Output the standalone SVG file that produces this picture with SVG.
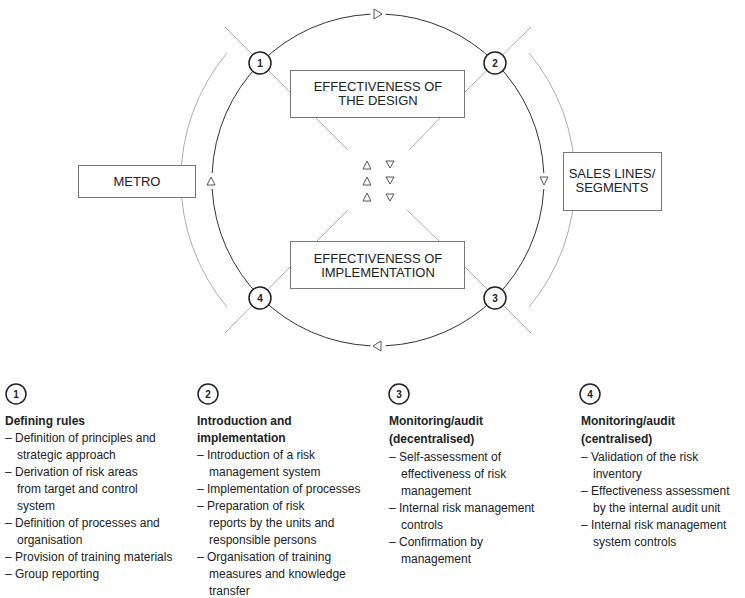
<svg xmlns="http://www.w3.org/2000/svg" width="745" height="598" viewBox="0 0 745 598">
<style>
.l{stroke:#333;stroke-width:1;fill:none}
.g{stroke:#999;stroke-width:0.8;fill:none}
.b{fill:#fff;stroke:#777;stroke-width:1}
.t{font-family:"Liberation Sans",Arial,sans-serif;font-size:13px;fill:#222;text-anchor:middle}
.n{font-family:"Liberation Sans",Arial,sans-serif;font-size:10px;font-weight:bold;fill:#222;text-anchor:middle}
.c{fill:#fff;stroke:#222;stroke-width:1.5}
.tri{fill:#fff;stroke:#444;stroke-width:0.9}
.x{font-family:"Liberation Sans",Arial,sans-serif;font-size:12px;fill:#222}
.h{font-weight:bold}
</style>
<rect width="745" height="598" fill="#fff"/>
<g id="connectors">
<path class="l" d="M385.5,14.2 A166,166 0 0 1 543.8,173 M543.8,189 A166,166 0 0 1 385.5,345.8 M370.5,345.8 A166,166 0 0 1 212.2,189 M212.2,173 A166,166 0 0 1 370.5,14.2"/>
<path class="g" d="M227,53 A198,198 0 0 0 227,307 M529,53 A198,198 0 0 1 529,307"/>
<path class="g" d="M225,27 L290,92 M315,117 L348,150 M531,27 L465,92 M441,117 L409,150 M225,333 L290,267 M317,241 L348,210 M531,333 L465,267 M439,241 L407,210"/>
<path class="tri" d="M374,9 L382,14 L374,19 Z M381,341 L373,346 L381,351 Z M207,185 L211,177 L215,185 Z M540,177 L548,177 L544,185 Z"/>
<path class="tri" d="M363,169 L367,161 L371,169 Z M363,185 L367,177 L371,185 Z M363,201 L367,193 L371,201 Z M386,161 L394,161 L390,168 Z M386,177 L394,177 L390,184 Z M386,194 L394,194 L390,201 Z"/>
</g>
<g id="box-design"><rect class="b" x="290.5" y="70.5" width="174" height="47"/><text class="t" x="378" y="91">EFFECTIVENESS OF</text><text class="t" x="378" y="105">THE DESIGN</text></g>
<g id="box-impl"><rect class="b" x="290.5" y="241.5" width="174" height="47"/><text class="t" x="378" y="263">EFFECTIVENESS OF</text><text class="t" x="378" y="277">IMPLEMENTATION</text></g>
<g id="box-metro"><rect class="b" x="78.5" y="165.5" width="117" height="32"/><text class="t" x="137" y="186">METRO</text></g>
<g id="box-sales"><rect class="b" x="563.5" y="152.5" width="98" height="58"/><text class="t" x="612" y="178">SALES LINES/</text><text class="t" x="612" y="192">SEGMENTS</text></g>
<g id="n1"><circle class="c" cx="260" cy="63" r="11"/><text class="n" x="260" y="67">1</text></g>
<g id="n2"><circle class="c" cx="495" cy="63" r="11"/><text class="n" x="495" y="67">2</text></g>
<g id="n3"><circle class="c" cx="495" cy="298" r="11"/><text class="n" x="495" y="302">3</text></g>
<g id="n4"><circle class="c" cx="260" cy="298" r="11"/><text class="n" x="260" y="302">4</text></g>
<g id="col1">
<circle class="c" cx="16" cy="394" r="10"/><text class="n" x="16" y="398">1</text>
<text class="x"><tspan class="h" x="5" y="425">Defining rules</tspan>
<tspan x="5" y="442">–  Definition of principles and</tspan><tspan x="17" y="459">strategic approach</tspan>
<tspan x="5" y="476">–  Derivation of risk areas</tspan><tspan x="17" y="493">from target and control</tspan><tspan x="17" y="510">system</tspan>
<tspan x="5" y="527">–  Definition of processes and</tspan><tspan x="17" y="544">organisation</tspan>
<tspan x="5" y="561">–  Provision of training materials</tspan>
<tspan x="5" y="578">–  Group reporting</tspan></text>
</g>
<g id="col2">
<circle class="c" cx="208" cy="394" r="10"/><text class="n" x="208" y="398">2</text>
<text class="x"><tspan class="h" x="197" y="425">Introduction and</tspan><tspan class="h" x="197" y="442">implementation</tspan>
<tspan x="197" y="459">–  Introduction of a risk</tspan><tspan x="209" y="476">management system</tspan>
<tspan x="197" y="493">–  Implementation of processes</tspan>
<tspan x="197" y="510">–  Preparation of risk</tspan><tspan x="209" y="527">reports by the units and</tspan><tspan x="209" y="544">responsible persons</tspan>
<tspan x="197" y="561">–  Organisation of training</tspan><tspan x="209" y="578">measures and knowledge</tspan><tspan x="209" y="595">transfer</tspan></text>
</g>
<g id="col3">
<circle class="c" cx="399" cy="394" r="10"/><text class="n" x="399" y="398">3</text>
<text class="x"><tspan class="h" x="389" y="425">Monitoring/audit</tspan><tspan class="h" x="389" y="443">(decentralised)</tspan>
<tspan x="389" y="461">–  Self-assessment of</tspan><tspan x="401" y="478">effectiveness of risk</tspan><tspan x="401" y="495">management</tspan>
<tspan x="389" y="512">–  Internal risk management</tspan><tspan x="401" y="529">controls</tspan>
<tspan x="389" y="546">–  Confirmation by</tspan><tspan x="401" y="563">management</tspan></text>
</g>
<g id="col4">
<circle class="c" cx="590" cy="394" r="10"/><text class="n" x="590" y="398">4</text>
<text class="x"><tspan class="h" x="581" y="425">Monitoring/audit</tspan><tspan class="h" x="581" y="443">(centralised)</tspan>
<tspan x="581" y="461">–  Validation of the risk</tspan><tspan x="593" y="478">inventory</tspan>
<tspan x="581" y="495">–  Effectiveness assessment</tspan><tspan x="593" y="512">by the internal audit unit</tspan>
<tspan x="581" y="529">–  Internal risk management</tspan><tspan x="593" y="546">system controls</tspan></text>
</g>
</svg>
